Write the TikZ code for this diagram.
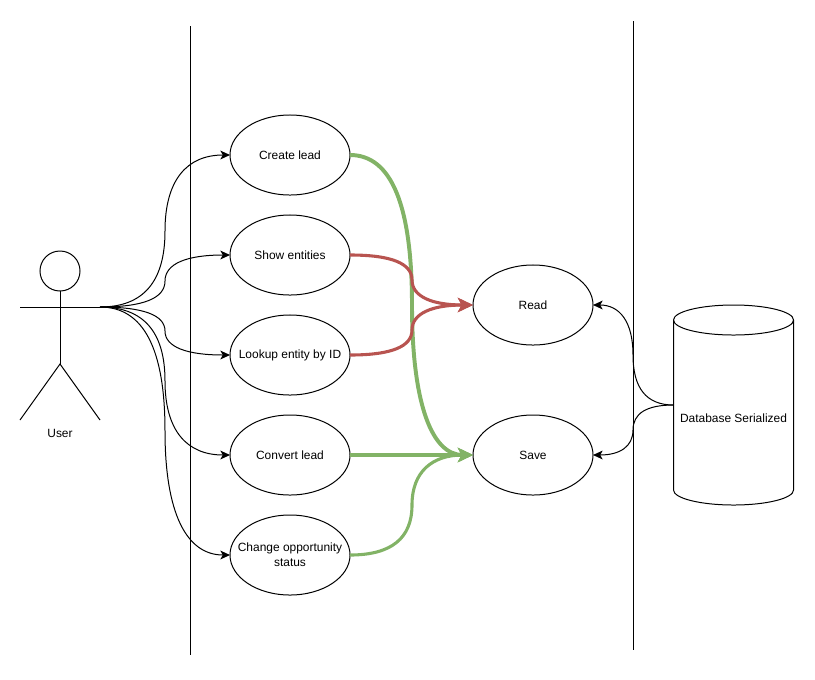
\documentclass[tikz,border=0pt]{standalone}
\usepackage{fontspec}
\setmainfont{Liberation Sans}
\usepackage{tikz}
\usetikzlibrary{positioning, calc, arrows.meta, shapes.geometric}

\definecolor{flowgreen}{HTML}{82B366}
\definecolor{flowred}{HTML}{B85450}

\tikzset{
	usecase/.style={ellipse, draw, line width=0.71pt, minimum width=3cm, minimum height=2cm, inner xsep=-1cm, inner ysep=0pt, outer sep=0pt, align=center, font=\fontsize{8.5}{10.8}\selectfont},
	plainlabel/.style={inner sep=0pt, font=\fontsize{8.5}{10.8}\selectfont},
	thinlink/.style={line width=0.71pt, -{Stealth[length=2.4mm, width=2.2mm, inset=0.6mm]}},
	redlink/.style={flowred, line width=2.2pt, -{Stealth[length=3.8mm, width=3.6mm, inset=1mm]}},
	greenlink/.style={flowgreen, line width=2.2pt, -{Stealth[length=3.8mm, width=3.6mm, inset=1mm]}}
}

% curve with one vertical piece: start -> column #3 -> end
\newcommand{\elbowlink}[4]{
	\draw[#1] (#2) .. controls ($(#2)!2/3!(#3 |- #2)$) and ($(#3 |- #2)!1/6!(#3 |- #4)$) .. ($(#3 |- #2)!.5!(#3 |- #4)$)
		.. controls ($(#3 |- #4)!1/6!(#3 |- #2)$) and ($(#4)!2/3!(#3 |- #4)$) .. (#4);
}

\begin{document}
\begin{tikzpicture}[x=0.025cm, y=-0.025cm]
	\useasboundingbox (0,0) rectangle (815,679);

	% columns used by the curved links
	\coordinate (colleft) at (165,0);
	\coordinate (colmid) at (412,0);
	\coordinate (colright) at (633,0);

	% boundary lines
	\coordinate (lineatop) at (190,26);
	\coordinate (lineabot) at (190,655);
	\coordinate (linebtop) at (633,21);
	\coordinate (linebbot) at (633,650);
	\draw[line width=0.71pt] (lineatop) -- (lineabot);
	\draw[line width=0.71pt] (linebtop) -- (linebbot);

	% use cases
	\node (create) [usecase] at (290,155) {Create lead};
	\node (show) [usecase] at (290,255) {Show entities};
	\node (lookup) [usecase] at (290,355) {Lookup entity by ID};
	\node (convert) [usecase] at (290,455) {Convert lead};
	\node (change) [usecase] at (290,555) {Change opportunity\\status};
	\node (read) [usecase] at (533,305) {Read};
	\node (save) [usecase] at (533,455) {Save};

	% actor
	\node (head) [circle, draw, line width=0.71pt, minimum size=1cm, inner sep=0pt, outer sep=0pt] at (60,271) {};
	\coordinate (armleft) at (20,307);
	\coordinate (armright) at (100,307);
	\coordinate (hip) at (60,364);
	\coordinate (footleft) at (20,420);
	\coordinate (footright) at (100,420);
	\draw[line width=0.71pt] (head.south) -- (hip);
	\draw[line width=0.71pt] (armleft) -- (armright);
	\draw[line width=0.71pt] (footleft) -- (hip) -- (footright);
	\node (user) [plainlabel] at (60,433) {User};

	% database
	\node (db) [minimum width=3cm, minimum height=5cm, inner sep=0pt, outer sep=0pt] at (733.5,405) {};
	\draw[line width=0.71pt] (673.5,320) arc[start angle=180, end angle=540, x radius=1.5cm, y radius=0.375cm];
	\draw[line width=0.71pt] (673.5,320) -- (673.5,490) arc[start angle=180, end angle=360, x radius=1.5cm, y radius=0.375cm] -- (793.5,320);
	\node (dblabel) [plainlabel] at (733.5,418) {Database Serialized};

	% user links
	\foreach \target in {create,show,lookup,convert,change} {
		\elbowlink{thinlink}{armright}{colleft}{\target.west}
	}

	% links to read and save
	\elbowlink{greenlink, line width=2.8pt}{create.east}{colmid}{save.west}
	\elbowlink{redlink}{show.east}{colmid}{read.west}
	\elbowlink{redlink}{lookup.east}{colmid}{read.west}
	\draw[greenlink] (convert.east) -- (save.west);
	\elbowlink{greenlink}{change.east}{colmid}{save.west}

	% database links
	\elbowlink{thinlink}{db.west}{colright}{read.east}
	\elbowlink{thinlink}{db.west}{colright}{save.east}
\end{tikzpicture}
\end{document}
